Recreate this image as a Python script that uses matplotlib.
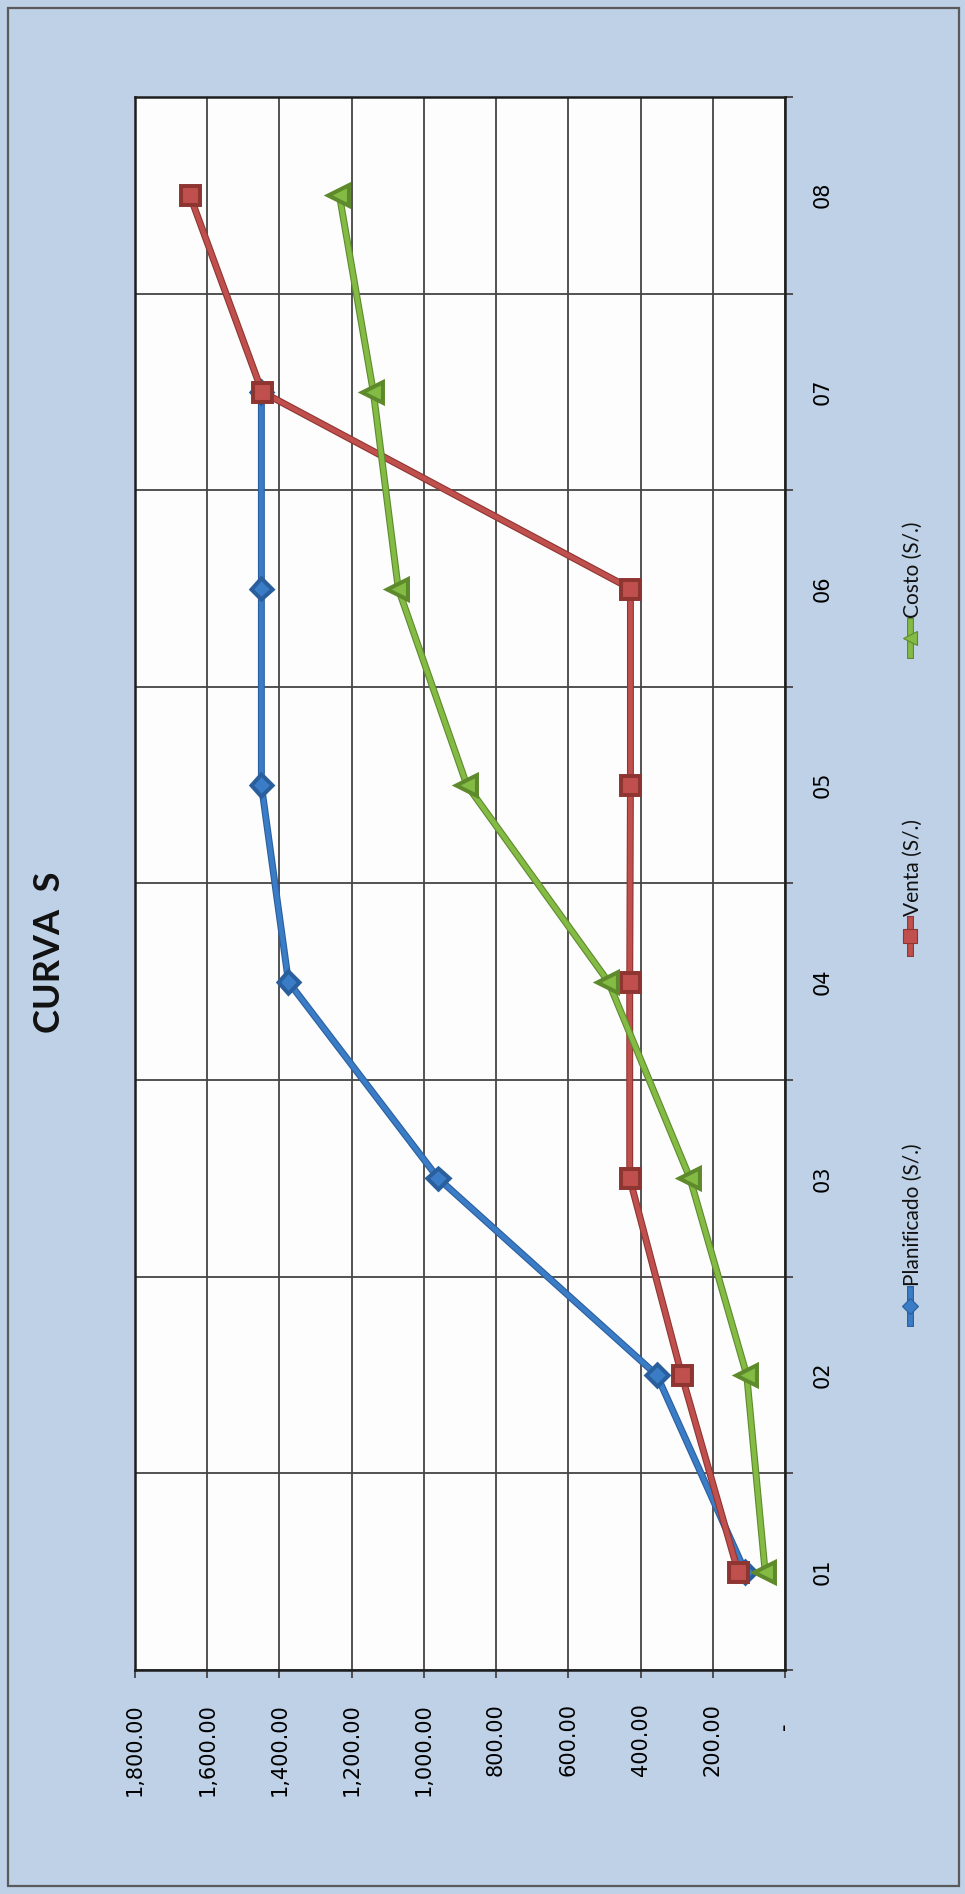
# Curva S: planned vs sales vs cost per period, drawn in portrait (rotated layout)
import numpy as np
import matplotlib
matplotlib.use("Agg")
import matplotlib.pyplot as plt
import matplotlib.patheffects as pe
from matplotlib.lines import Line2D
from matplotlib.patches import Rectangle

periodos = ['01', '02', '03', '04', '05', '06', '07', '08']
planificado = [110, 355, 960, 1375, 1450, 1450, 1450]
venta = [130, 286, 430, 430, 428, 428, 1448, 1648]
costo = [55, 106, 263, 489, 881, 1071, 1140, 1234]

series = [
    ('Planificado (S/.)', planificado, '#3b7cc6', '#2a5f9e', 'D', 9),
    ('Venta (S/.)', venta, '#c0504d', '#8e3532', 's', 11.5),
    ('Costo (S/.)', costo, '#84bb45', '#5e8a2c', '<', 11.5),
]

W, H = 965, 1894
bg = '#bed1e7'
grid_c = '#444444'

fig = plt.figure(figsize=(W / 100, H / 100), dpi=100, facecolor=bg)

# plot area (pixel box converted to figure fractions)
left, right, top, bottom = 135, 785, 97, 1670
ax = fig.add_axes([left / W, (H - bottom) / H, (right - left) / W, (bottom - top) / H])
ax.set_facecolor('#fdfdfd')

ypos = np.arange(1, len(periodos) + 1)
for name, vals, col, edge, mk, ms in series:
    ax.plot(vals, ypos[:len(vals)], color=col, lw=3.4, marker=mk, ms=ms,
            mfc=col, mec=edge, mew=0.8, solid_joinstyle='miter',
            path_effects=[pe.Stroke(linewidth=5.0, foreground=edge), pe.Normal()],
            zorder=3)

ax.set_xlim(1800, 0)
ax.set_ylim(0.5, len(periodos) + 0.5)

xt = np.arange(0, 1801, 200)
ax.set_xticks(xt)
ax.set_xticklabels([f"{v:,.2f}" if v > 0 else "-   " for v in xt],
                   rotation=90, fontsize=15, family='DejaVu Sans')
ax.tick_params(axis='x', direction='out', length=6, width=1.3, color=grid_c, pad=18)

ax.set_yticks(ypos)
ax.set_yticks(np.arange(0.5, len(periodos) + 1), minor=True)
ax.yaxis.tick_right()
ax.set_yticklabels(periodos, fontsize=15, family='DejaVu Sans')
plt.setp(ax.get_yticklabels(), rotation=90, va='center', ha='left')
ax.tick_params(axis='y', which='major', length=0, pad=20)
ax.tick_params(axis='y', which='minor', direction='out', length=6, width=1.3,
               color=grid_c, right=True, left=False)

ax.grid(axis='x', which='major', color=grid_c, lw=1.3)
ax.grid(axis='y', which='minor', color=grid_c, lw=1.3)
ax.set_axisbelow(True)
for s in ax.spines.values():
    s.set_color('#1e1e1e')
    s.set_linewidth(1.8)

# decorations in pixel coordinates: frame, title, legend
deco = fig.add_axes([0, 0, 1, 1], zorder=-1)
deco.set_xlim(0, W)
deco.set_ylim(H, 0)
deco.axis('off')
deco.add_patch(Rectangle((8, 8), W - 14, H - 16, fill=False, ec='#5a5a5a', lw=1.6))

deco.text(50, 952, 'CURVA  S', rotation=90, ha='center', va='center',
          fontsize=26, fontweight='bold', family='Lato', color='#111111')

leg_y = [1306, 936, 638]
for (name, vals, col, edge, mk, ms), yc in zip(series, leg_y):
    deco.add_line(Line2D([910, 910], [yc - 17, yc + 17], color=col, lw=3.4,
                         path_effects=[pe.Stroke(linewidth=5.0, foreground=edge), pe.Normal()]))
    deco.plot([910], [yc], marker=mk, ms=ms * 0.85, color=col, mec=edge, mew=0.8)
    deco.text(913, yc - 20, name, rotation=90, ha='center', va='bottom',
              fontsize=15, family='Lato', color='#111111')

fig.savefig('out.png', dpi=100, facecolor=bg)
